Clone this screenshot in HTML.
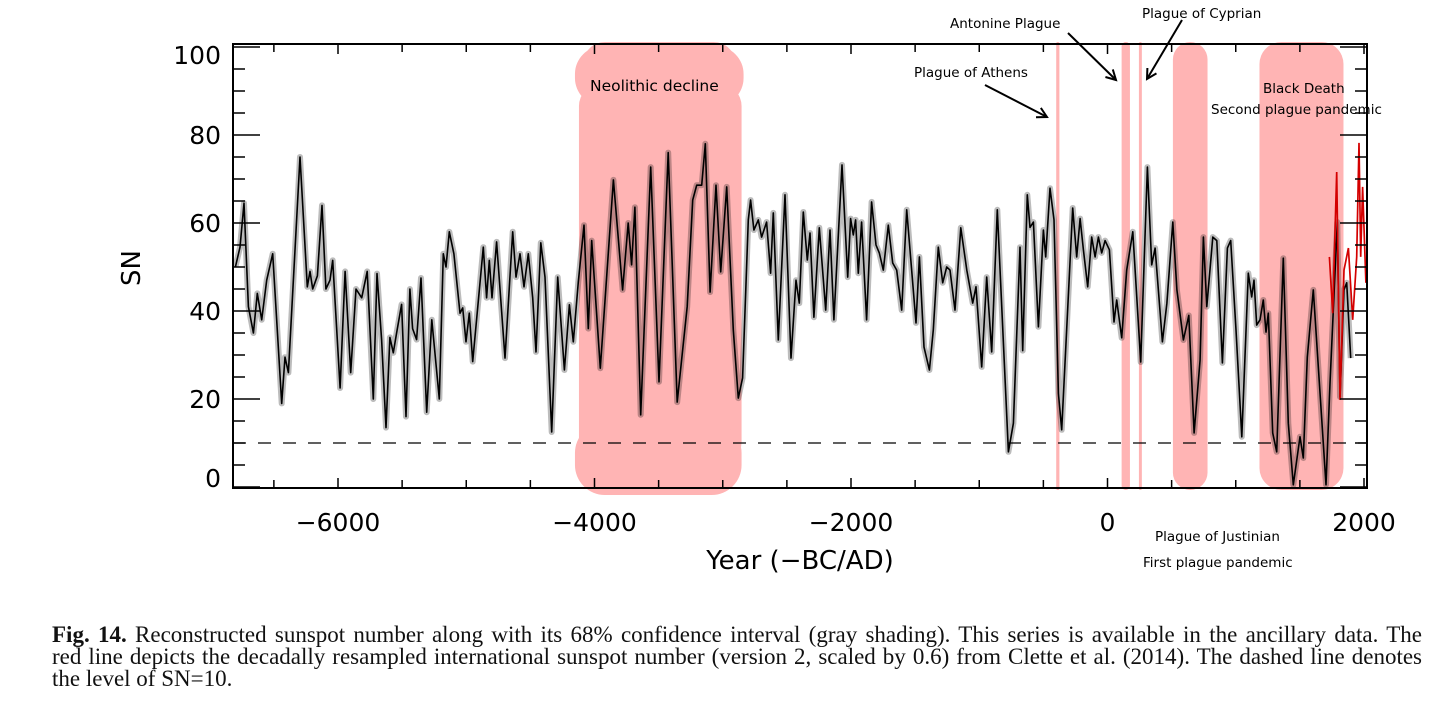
<!DOCTYPE html>
<html><head><meta charset="utf-8"><style>
body{margin:0;background:#fff;width:1456px;height:710px;overflow:hidden;font-family:"DejaVu Sans","Liberation Sans",sans-serif}
svg{position:absolute;left:0;top:0}
.cap{position:absolute;left:52px;top:624px;width:1370px;font-family:"Liberation Serif",serif;font-size:23px;line-height:22px;color:#111}
.cap div{white-space:nowrap;text-align:justify;text-align-last:justify}
.cap div.last{text-align-last:left}
</style></head><body>
<svg id="chart" width="1456" height="610" viewBox="0 0 1456 610"></svg>
<div class="cap"><div><b>Fig. 14.</b> Reconstructed sunspot number along with its 68% confidence interval (gray shading). This series is available in the ancillary data. The</div><div>red line depicts the decadally resampled international sunspot number (version 2, scaled by 0.6) from Clette et al. (2014). The dashed line denotes</div><div class="last">the level of SN=10.</div></div>
<script>
const snYears=[-6800,-6764,-6733,-6699,-6660,-6629,-6595,-6556,-6509,-6439,-6413,-6387,-6296,-6239,-6218,-6197,-6161,-6125,-6094,-6062,-6041,-5984,-5945,-5901,-5860,-5815,-5772,-5725,-5696,-5660,-5626,-5595,-5569,-5543,-5504,-5470,-5439,-5418,-5387,-5353,-5308,-5269,-5210,-5179,-5158,-5132,-5096,-5049,-5028,-5002,-4976,-4950,-4867,-4841,-4820,-4799,-4763,-4698,-4638,-4612,-4581,-4550,-4516,-4482,-4456,-4419,-4386,-4334,-4287,-4235,-4196,-4165,-4126,-4082,-4048,-4022,-3955,-3853,-3781,-3737,-3711,-3685,-3640,-3562,-3497,-3425,-3355,-3277,-3234,-3203,-3164,-3136,-3099,-3053,-3016,-2969,-2918,-2879,-2845,-2801,-2783,-2757,-2723,-2697,-2658,-2627,-2606,-2567,-2515,-2468,-2429,-2403,-2372,-2341,-2320,-2289,-2247,-2197,-2164,-2133,-2070,-2026,-2003,-1982,-1964,-1943,-1917,-1878,-1839,-1805,-1779,-1748,-1709,-1675,-1644,-1605,-1566,-1493,-1467,-1431,-1389,-1358,-1319,-1285,-1254,-1228,-1189,-1144,-1097,-1051,-1025,-981,-942,-903,-859,-773,-734,-682,-661,-625,-604,-578,-539,-500,-482,-448,-417,-383,-357,-271,-240,-214,-188,-154,-123,-97,-71,-45,-19,15,51,72,111,150,197,259,311,345,371,428,463,509,541,592,634,675,722,748,774,821,852,896,935,961,1002,1047,1098,1124,1142,1163,1189,1215,1236,1254,1288,1319,1371,1410,1449,1501,1527,1558,1605,1704,1735,1792,1813,1844,1865,1896];
const snValues=[50,54.5,64.5,41,35,44,38,47,53,19,29.5,26,75,45.5,49,45,48,64,45,47,51.5,22.5,49,26,45,43,49,20,48.5,33.5,13.5,34,30.5,35,41.5,16,45,36,33.5,47.5,17,38,20,53,50,58,53,39.5,40.7,33,39.5,28.5,54.5,43,51.5,43,55.7,29.3,58,47.7,53,45.5,53,43,30.7,55.5,47.7,12.5,47.7,26.6,41.4,33,46.6,59.5,36,56,27,69.8,44.8,60,50.5,63.6,16.4,72.7,23.9,76,19.3,41,65.2,68.6,68.6,78,44.3,68.6,48.9,68.2,35.7,20.2,24.8,60.7,65.2,58.4,60.7,56.8,60.2,48.6,62.3,33.4,66.4,29.3,47,41.8,62.5,51.6,57.7,38.6,58.9,40.2,58.4,38,73.2,47.7,61,57.3,60.7,48.6,60.2,38,64.8,55,53.2,49.3,59.5,50.9,49.3,40.2,63,37.3,52.3,31.8,26.6,35.7,54.5,46.4,50,49.3,40.2,58.9,49.3,41.8,45.5,27.3,47.7,30.7,63,8,14.5,54.5,31,66.4,59,60.2,36.4,58.4,52.3,67.9,60.7,21.3,13,63.4,52.3,61,53.9,45.5,56.8,52.3,56.8,53.2,56,53.9,37.5,42.5,33.9,49.3,58,28.4,72.7,50.5,54.3,33,41.8,60.2,44.8,33.4,39,12.3,28.9,56.8,41,56.8,56,28.2,54.3,56,35.7,11.4,48.6,43.2,47,36.8,38,42.5,35.2,39.5,12.3,8,52,14.5,0.5,11.4,6.6,29.5,44.8,0.5,23.6,60.2,20.5,44.8,46.4,29.3];
const isnYears=[1730,1756,1787,1813,1844,1878,1912,1943,1961,1974,1989,2015];
const isnValues=[52.3,39.5,71.6,19.8,49.3,54.3,38,52.3,78.2,52.3,68.2,46.4];
const xTicks=[-6000,-4000,-2000,0,2000];
const xTickLabels=["\u22126000","\u22124000","\u22122000","0","2000"];
const yTicks=[0,20,40,60,80,100];
const refLevel=10;
const plagues=[
 {name:"neolithic-decline-band",x0:-4090,x1:-2900},
 {name:"plague-of-athens-band",x0:-400,x1:-375},
 {name:"antonine-plague-band",x0:110,x1:175},
 {name:"plague-of-cyprian-band",x0:245,x1:268},
 {name:"plague-of-justinian-band",x0:510,x1:780},
 {name:"black-death-band",x0:1185,x1:1840}
];
const L=233,R=1367,T=44,B=488;
const X=y=>338+(y+6000)*0.128250;
const Y=v=>487-v*4.4;
const NS="http://www.w3.org/2000/svg";
const svg=document.getElementById('chart');
function mk(tag,attrs,parent){const e=document.createElementNS(NS,tag);for(const k in attrs)e.setAttribute(k,attrs[k]);(parent||svg).appendChild(e);return e;}
function pts(xs,vs){return xs.map((y,i)=>X(y).toFixed(1)+','+Y(vs[i]).toFixed(1)).join(' ');}
let band=mk('polyline',{points:pts(snYears,snValues),fill:'none',stroke:'#bcbcbc','stroke-width':6,'stroke-linejoin':'round'});


let line=mk('polyline',{points:pts(snYears,snValues),fill:'none',stroke:'#000','stroke-width':1.6,'stroke-linejoin':'round'});


let red=mk('polyline',{points:pts(isnYears,isnValues),fill:'none',stroke:'#d40000','stroke-width':1.7});


let dash=mk('line',{x1:L,x2:R,y1:Y(refLevel),y2:Y(refLevel),stroke:'#000','stroke-width':1.3,'stroke-dasharray':'13,12'});


plagues.forEach(p=>{
 const x0=X(p.x0),x1=X(p.x1),w=x1-x0;
 const g=mk('g',{style:'mix-blend-mode:multiply'});
 
 
 const r=Math.min(w/2,22);
 const c='#ffb4b4';
 mk('rect',{x:x0,y:T-2,width:w,height:B-T+4,rx:r,fill:c},g);
 if(w>100){
  mk('rect',{x:x0-8,y:T+2,width:w+16,height:60,rx:28,fill:c},g);
  mk('rect',{x:x0-4,y:T+40,width:w+10,height:380,rx:22,fill:c},g);
  mk('rect',{x:x0-8,y:B-65,width:w+14,height:72,rx:30,fill:c},g);
 }
});
let fr=mk('rect',{x:L,y:T,width:R-L,height:B-T,fill:'none',stroke:'#000','stroke-width':2});


for(let v=0;v<=100;v+=5){
 const len=(v%20===0)?27:12;
 mk('line',{x1:L,x2:L+len,y1:Y(v),y2:Y(v),stroke:'#000','stroke-width':1.5});
 mk('line',{x1:R,x2:R-len,y1:Y(v),y2:Y(v),stroke:'#000','stroke-width':1.5});
}
yTicks.forEach(v=>{
 const off=v===0?-9:(v===100?8:0);
 const t=mk('text',{x:221,y:Y(v)+off+9,'text-anchor':'end','font-size':25,fill:'#000'});
 t.textContent=v;
 
 
});
for(let yr=-6500;yr<=2000;yr+=500){
 const x=X(yr),len=(yr%2000===0)?10:8;
 mk('line',{x1:x,x2:x,y1:B,y2:B-len,stroke:'#000','stroke-width':1.5});
 mk('line',{x1:x,x2:x,y1:T,y2:T+len,stroke:'#000','stroke-width':1.5});
}
xTicks.forEach((yr,i)=>{
 const t=mk('text',{x:X(yr),y:531,'text-anchor':'middle','font-size':25,fill:'#000'});
 t.textContent=xTickLabels[i];
 
 
});
function txt(s,x,y,size,name,anchor){const t=mk('text',{x:x,y:y,'font-size':size,fill:'#000','text-anchor':anchor||'start'});t.textContent=s;return t;}
txt('Year (\u2212BC/AD)',800,569,26,'x-axis-title','middle');
const yt=txt('SN',0,0,26,'y-axis-title','middle');yt.setAttribute('transform','translate(140,268) rotate(-90)');
txt('Neolithic decline',590,91,15.5,'neolithic-decline-label');
txt('Plague of Athens',914,77,13.5,'plague-of-athens-label');
txt('Antonine Plague',950,28,13.5,'antonine-plague-label');
txt('Plague of Cyprian',1142,18,13.5,'plague-of-cyprian-label');
txt('Black Death',1263,93,13.5,'black-death-label');
txt('Second plague pandemic',1211,114,13.5,'second-pandemic-label');
txt('Plague of Justinian',1155,541,13.5,'plague-of-justinian-label');
txt('First plague pandemic',1143,567,13.5,'first-pandemic-label');
function arrow(x1,y1,x2,y2,name){
 const g=mk('g',{stroke:'#000','stroke-width':2,fill:'none'});
 
 
 mk('line',{x1,y1,x2,y2},g);
 const a=Math.atan2(y2-y1,x2-x1),h=11;
 mk('polyline',{points:`${x2-h*Math.cos(a-0.5)},${y2-h*Math.sin(a-0.5)} ${x2},${y2} ${x2-h*Math.cos(a+0.5)},${y2-h*Math.sin(a+0.5)}`},g);
}
arrow(985,85,1047,117,'athens-arrow');
arrow(1068,33,1116,80,'antonine-arrow');
arrow(1182,20,1147,79,'cyprian-arrow');
</script>
</body></html>
